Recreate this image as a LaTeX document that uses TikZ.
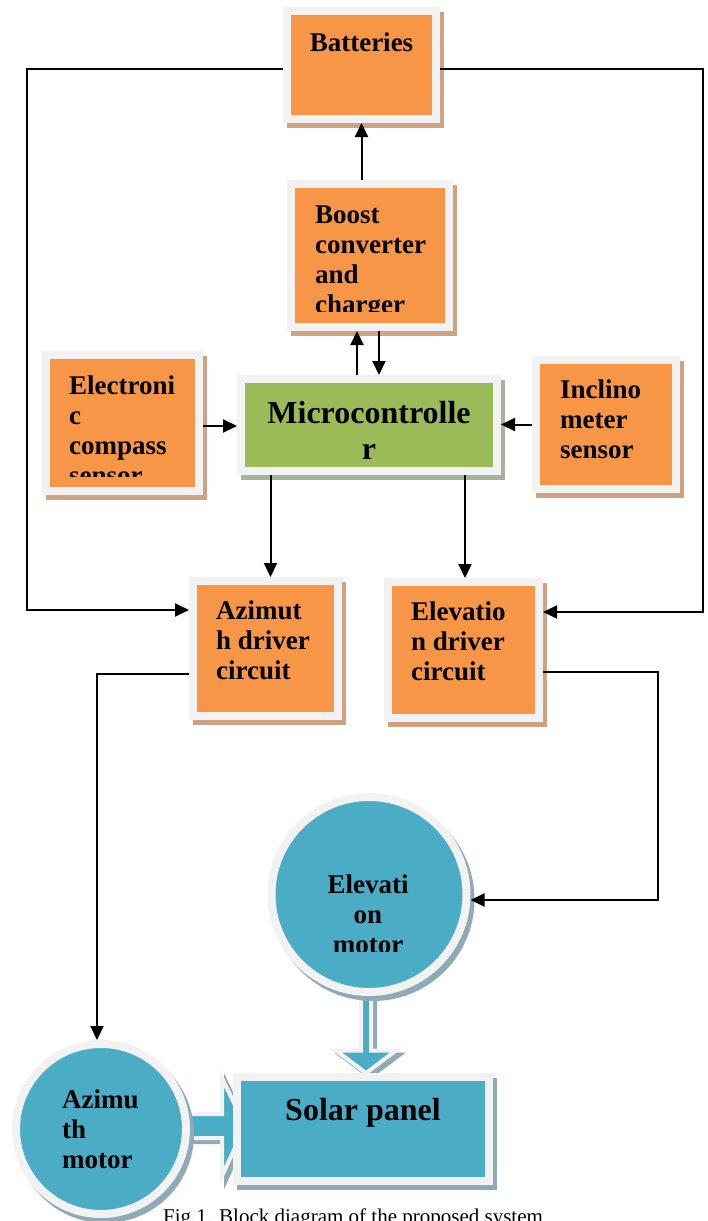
\documentclass[tikz,border=0pt]{standalone}
\usepackage{fontspec}
\setmainfont{Liberation Serif}
\usepackage{tikz}
\usetikzlibrary{positioning, arrows.meta, calc, backgrounds}

\definecolor{boxorange}{HTML}{F79646}
\definecolor{framegray}{HTML}{F2F2F2}
\definecolor{shadetan}{HTML}{CFA283}
\definecolor{mcgreen}{HTML}{9BBB59}
\definecolor{shadegreen}{HTML}{A9B39A}
\definecolor{motorblue}{HTML}{4BACC6}
\definecolor{shadeblue}{HTML}{8FAAB5}

\begin{document}
\begin{tikzpicture}[
  x=1pt, y=-1pt,
  boxbase/.style={draw=framegray, line width=8pt, inner sep=0,
    preaction={draw=#1, fill=#1, line width=8pt,
      transform canvas={xshift=4pt, yshift=-5pt}}},
  blk/.style={boxbase=shadetan, rectangle, fill=boxorange},
  ctrl/.style={boxbase=shadegreen, rectangle, fill=mcgreen},
  panel/.style={boxbase=shadeblue, rectangle, fill=motorblue},
  motor/.style={boxbase=shadeblue, circle, fill=motorblue},
  txt/.style={font=\bfseries\fontsize{27}{30}\selectfont, align=left, inner sep=0},
  big/.style={font=\bfseries\fontsize{32}{36}\selectfont, align=center, inner sep=0},
  arr/.style={-{Triangle[length=14pt, width=13pt]}, line width=2pt},
  barrow/.style={fill=motorblue, draw=framegray, line width=4pt, line join=miter,
    preaction={fill=shadeblue, draw=shadeblue, line width=4pt,
      transform canvas={xshift=4pt, yshift=-4pt}}}
]
\useasboundingbox (0,0) rectangle (707,1221);
\clip (0,0) rectangle (707,1221);

% boxes (text placed by the baseline of its last line)
\node[blk, minimum width=149, minimum height=108] (bat) at (361.5,65) {};
\node[txt, anchor=base] (bat-t) at (361.5,51) {Batteries};

\node[blk, minimum width=158, minimum height=143] (boost) at (370,255.5) {};
\begin{scope}
  \clip (290,180) rectangle (450,311);
  \node[txt, anchor=base west] (boost-t) at (315,313) {Boost\\converter\\and\\charger};
\end{scope}

\node[blk, minimum width=153, minimum height=136] (comp) at (122.5,423) {};
\begin{scope}
  \clip (45,355) rectangle (200,476);
  \node[txt, anchor=base west] (comp-t) at (69,484) {Electroni\\c\\compass\\sensor};
\end{scope}

\node[blk, minimum width=140, minimum height=129] (incl) at (606,424.5) {};
\node[txt, anchor=base west] (incl-t) at (560,458) {Inclino\\meter\\sensor};

\node[ctrl, minimum width=256, minimum height=92] (mcu) at (369,425) {};
\node[big, anchor=base] (mcu-t) at (369,459) {Microcontrolle\\r};

\node[blk, minimum width=145, minimum height=135] (azd) at (265.5,648.5) {};
\node[txt, anchor=base west] (azd-t) at (216,679) {Azimut\\h driver\\circuit};

\node[blk, minimum width=151, minimum height=136] (eld) at (463.5,650) {};
\node[txt, anchor=base west] (eld-t) at (411,680) {Elevatio\\n driver\\circuit};

% motors and panel
\node[panel, minimum width=252, minimum height=104] (sol) at (363,1129) {};
\node[big, anchor=base] (sol-t) at (363,1120) {Solar panel};

\node[motor, minimum size=195] (elm) at (369,894.5) {};
\begin{scope}
  \clip (280,840) rectangle (460,951);
  \node[txt, align=center, anchor=base] (elm-t) at (368,953) {Elevati\\on\\motor};
\end{scope}

\node[motor, minimum size=170] (azm) at (101,1129) {};
\node[txt, anchor=base west] (azm-t) at (62,1168) {Azimu\\th\\motor};

\begin{pgfonlayer}{background}
  \draw[barrow, shift={(elm.south)}] (-8,-20) -- (2,-20) -- (2,54.5) -- (27,54.5)
    -- (-3,77) -- (-33,54.5) -- (-8,54.5) -- cycle;
  \draw[barrow, shift={(azm.east)}] (-20,-15) -- (32,-15) -- (32,-51) -- (55,-3)
    -- (32,47) -- (32,9) -- (-20,9) -- cycle;
\end{pgfonlayer}

% connectors
\coordinate (lft) at (27,300);
\coordinate (rgt) at (703,300);
\coordinate (elcol) at (658,800);

\draw[arr] (bat.south |- boost.north) -- (bat.south);
\draw[arr] ([xshift=-12pt]mcu.north) -- ([xshift=-12pt]mcu.north |- boost.south);
\draw[arr] ([xshift=10pt]mcu.north |- boost.south) -- ([xshift=10pt]mcu.north);
\draw[arr] ([yshift=-3pt]comp.east) -- ([yshift=-3pt]comp.east -| mcu.west);
\draw[arr] (incl.west) -- (incl.west -| mcu.east);
\draw[arr] ([xshift=5pt]azd.north |- mcu.south) -- ([xshift=5pt]azd.north);
\draw[arr] ([xshift=1.5pt]eld.north |- mcu.south) -- ([xshift=1.5pt]eld.north);

\draw[arr] ([yshift=-4pt]bat.west) -| (lft) |- ([yshift=38.5pt]azd.west);
\draw[arr] ([yshift=-4pt]bat.east) -| (rgt) |- ([yshift=38pt]eld.east);

\draw[arr] ([yshift=-25.5pt]azd.west) -| ([xshift=-4pt]azm.north);
\draw[arr] ([yshift=-22pt]eld.east) -| (elcol) |- ([yshift=-5.5pt]elm.east);

% caption
\node[font=\fontsize{21}{24}\selectfont, anchor=base west, inner sep=0] (cap) at (163,1223)
  {Fig.1. Block diagram of the proposed system};
\end{tikzpicture}
\end{document}
